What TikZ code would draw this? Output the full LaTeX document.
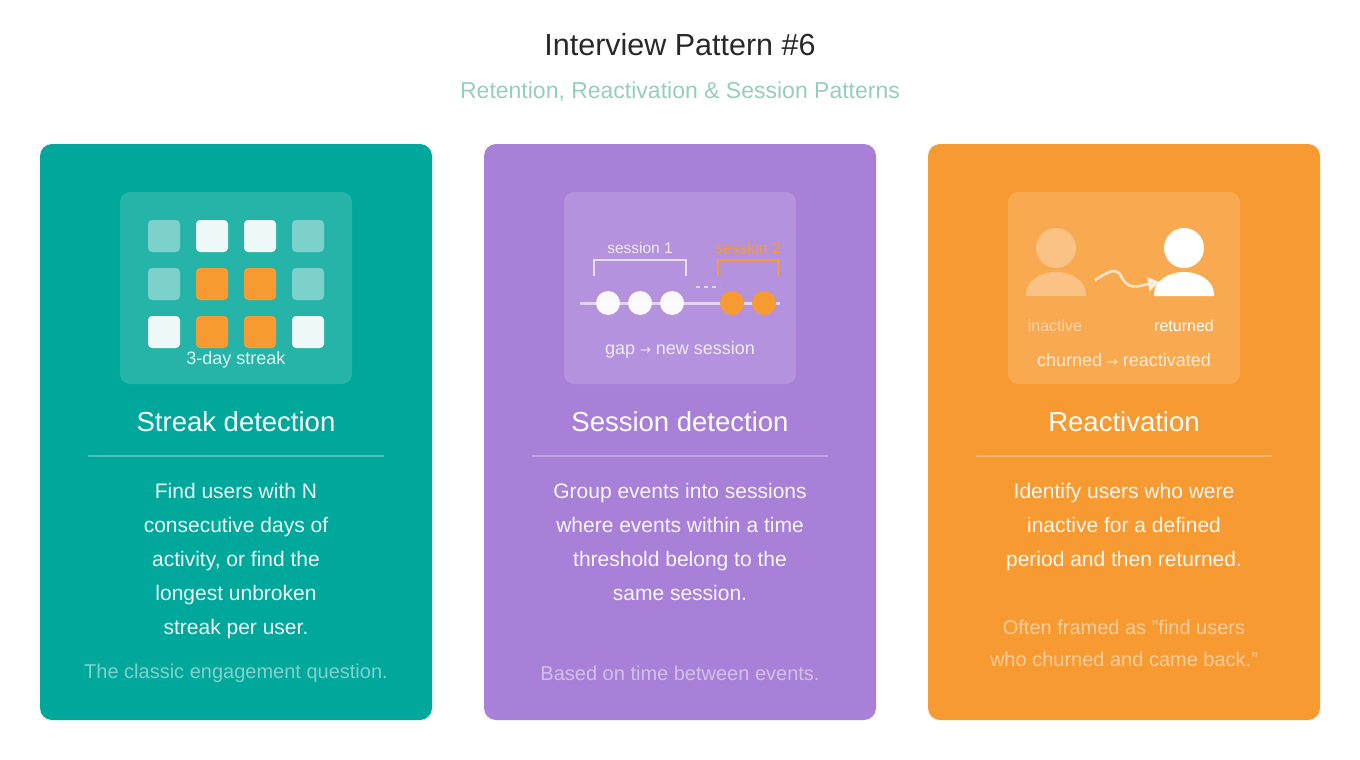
\documentclass[tikz,border=0pt]{standalone}
\usepackage{fontspec}
\defaultfontfeatures{}
\setmainfont{Liberation Sans}[Ligatures=ResetAll]
\newfontfamily\arrowfont{DejaVu Sans}
\usetikzlibrary{arrows.meta}
\definecolor{tealc}{RGB}{0,167,155}
\definecolor{purplec}{RGB}{168,128,216}
\definecolor{orangec}{RGB}{248,154,50}
\definecolor{titlec}{RGB}{40,40,40}
\definecolor{subc}{RGB}{150,205,190}
\newcommand{\rarr}{{\arrowfont\fontsize{13}{14}\selectfont →}}
\newcommand{\sq}{\char"0022\relax}
\tikzset{
  card/.style={rounded corners=12pt},
  panel/.style={fill=white, fill opacity=0.15, rounded corners=10pt},
  tile/.style={rounded corners=4pt},
  head/.style={font=\fontsize{27.5}{30}\selectfont, text=white},
  body/.style={font=\fontsize{21}{34}\selectfont, text=white, align=center, text opacity=0.92},
  foot/.style={font=\fontsize{20}{32}\selectfont, text=white, align=center, text opacity=0.5},
  small/.style={font=\fontsize{18}{20}\selectfont, text=white},
}
\begin{document}
\begin{tikzpicture}[x=1pt,y=-1pt]
    \useasboundingbox (0,0) rectangle (1360,760);
    % titles
    \node[font=\fontsize{30.5}{34}\selectfont, text=titlec] (title) at (680,45) {Interview Pattern \#6};
    \node[font=\fontsize{23}{26}\selectfont, text=subc] (subtitle) at (680,92) {Retention, Reactivation \& Session Patterns};
    % cards
    \fill[card, tealc] (40,144) rectangle (432,720);
    \fill[card, purplec] (484,144) rectangle (876,720);
    \fill[card, orangec] (928,144) rectangle (1320,720);
    \foreach \cx in {236,680,1124} {
        \fill[panel] (\cx-116,192) rectangle (\cx+116,384);
        \draw[white, opacity=0.3, line width=1.5pt] (\cx-148,456) -- (\cx+148,456);
    }
    % streak grid
    \foreach \x/\y/\c/\o in {148/220/white/0.4, 196/220/white/0.92, 244/220/white/0.92, 292/220/white/0.4,
                             148/268/white/0.4, 196/268/orangec/1, 244/268/orangec/1, 292/268/white/0.4,
                             148/316/white/0.92, 196/316/orangec/1, 244/316/orangec/1, 292/316/white/0.92}
        \fill[tile, \c, fill opacity=\o] (\x,\y) rectangle ++(32,32);
    \node[small, text opacity=0.85] (streak) at (236,360) {3-day streak};
    \node[head] (h1) at (236,422) {Streak detection};
    \node[body, anchor=north] (b1) at (236,480) {Find users with N\\consecutive days of\\activity, or find the\\longest unbroken\\streak per user.};
    \node[foot] (f1) at (236,673) {The classic engagement question.};
    % session icon
    \draw[white, opacity=0.6, line width=3pt] (580,303) -- (780,303);
    \foreach \x in {608,640,672} \fill[white, opacity=0.95] (\x,303) circle (12);
    \foreach \x in {732,764} \fill[orangec] (\x,303) circle (12);
    \draw[white, opacity=0.7, line width=1.5pt] (594,276) -- (594,260) -- (686,260) -- (686,276);
    \draw[orangec, line width=1.5pt] (718,276) -- (718,260) -- (778,260) -- (778,276);
    \draw[white, opacity=0.6, line width=1.2pt, dash pattern=on 4pt off 4pt] (696,287) -- (720,287);
    \node[small, font=\fontsize{15.5}{18}\selectfont, text opacity=0.8] (s1) at (640,248) {session 1};
    \node[small, font=\fontsize{15.5}{18}\selectfont, text=orangec] (s2) at (748,248) {session 2};
    \node[small, text opacity=0.8] (gap) at (680,350) {gap \rarr{} new session};
    \node[head] (h2) at (680,422) {Session detection};
    \node[body, anchor=north] (b2) at (680,480) {Group events into sessions\\where events within a time\\threshold belong to the\\same session.};
    \node[foot] (f2) at (680,673) {Based on time between events.};
    % reactivation icon
    \fill[white, opacity=0.3] (1056,248) circle (20);
    \fill[white, opacity=0.3] (1026,296) -- (1026,294) arc[start angle=180, end angle=360, x radius=30, y radius=22] -- (1086,296) -- cycle;
    \fill[white] (1184,248) circle (20);
    \fill[white] (1154,296) -- (1154,294) arc[start angle=180, end angle=360, x radius=30, y radius=22] -- (1214,296) -- cycle;
    \draw[white, opacity=0.7, line width=2.5pt, -{Triangle[length=12pt,width=14pt]}]
        (1095,280) .. controls (1108,272) and (1114,268) .. (1120,274) .. controls (1128,292) and (1138,286) .. (1160,282);
    \node[small, font=\fontsize{16}{18}\selectfont, text opacity=0.5] (inact) at (1055,326) {inactive};
    \node[small, font=\fontsize{16}{18}\selectfont] (ret) at (1184,326) {returned};
    \node[small, text opacity=0.75] (churn) at (1124,360) {churned \rarr{} reactivated};
    \node[head] (h3) at (1124,422) {Reactivation};
    \node[body, anchor=north] (b3) at (1124,480) {Identify users who were\\inactive for a defined\\period and then returned.};
    \node[foot, anchor=north] (f3) at (1124,616) {Often framed as \sq find users\\who churned and came back.\sq};
\end{tikzpicture}
\end{document}
